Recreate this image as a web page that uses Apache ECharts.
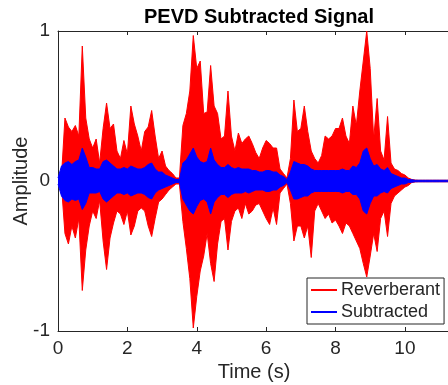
<!DOCTYPE html>
<html>
<head>
<meta charset="utf-8">
<script src="https://cdn.jsdelivr.net/npm/echarts@6/dist/echarts.min.js"></script>
<style>html,body{margin:0;padding:0;background:#fff}#c{width:448px;height:385px}</style>
</head>
<body>
<div id="c"></div>
<script>
const times = [0.0,0.1,0.2,0.3,0.4,0.5,0.6,0.7,0.8,0.9,1.0,1.1,1.2,1.3,1.4,1.5,1.6,1.7,1.8,1.9,2.0,2.1,2.2,2.3,2.4,2.5,2.6,2.7,2.8,2.9,3.0,3.1,3.2,3.3,3.4,3.5,3.6,3.7,3.8,3.9,4.0,4.1,4.2,4.3,4.4,4.5,4.6,4.7,4.8,4.9,5.0,5.1,5.2,5.3,5.4,5.5,5.6,5.7,5.8,5.9,6.0,6.1,6.2,6.3,6.4,6.5,6.6,6.7,6.8,6.9,7.0,7.1,7.2,7.3,7.4,7.5,7.6,7.7,7.8,7.9,8.0,8.1,8.2,8.3,8.4,8.5,8.6,8.7,8.8,8.9,9.0,9.1,9.2,9.3,9.4,9.5,9.6,9.7,9.8,9.9,10.0,10.1,10.2,10.3,10.4,10.5,10.6,10.7,10.8,10.9,11.0,11.1,11.2,11.3];
const reverbUpper = [0.01,0.03,0.42,0.36,0.33,0.37,0.30,0.90,0.42,0.28,0.22,0.28,0.12,0.35,0.52,0.35,0.38,0.20,0.15,0.27,0.18,0.50,0.38,0.30,0.20,0.33,0.36,0.47,0.30,0.15,0.20,0.10,0.07,0.05,0.02,0.02,0.37,0.45,0.60,0.97,0.75,0.80,0.45,0.46,0.77,0.50,0.45,0.28,0.30,0.60,0.30,0.20,0.32,0.25,0.28,0.30,0.25,0.19,0.15,0.22,0.27,0.25,0.22,0.22,0.08,0.05,0.02,0.15,0.54,0.33,0.35,0.50,0.33,0.20,0.15,0.12,0.17,0.30,0.28,0.30,0.35,0.35,0.42,0.30,0.25,0.50,0.37,0.60,0.80,1.00,0.75,0.28,0.55,0.20,0.14,0.43,0.12,0.08,0.07,0.05,0.04,0.02,0.01,0.006,0.005,0.005,0.005,0.005,0.005,0.005,0.005,0.005,0.005,0.005];
const reverbLower = [-0.01,-0.03,-0.35,-0.42,-0.30,-0.38,-0.25,-0.73,-0.46,-0.30,-0.20,-0.25,-0.13,-0.40,-0.59,-0.38,-0.28,-0.20,-0.22,-0.29,-0.20,-0.36,-0.30,-0.20,-0.18,-0.20,-0.30,-0.37,-0.25,-0.14,-0.12,-0.09,-0.06,-0.04,-0.02,-0.02,-0.27,-0.45,-0.65,-0.98,-0.77,-0.60,-0.50,-0.35,-0.55,-0.67,-0.42,-0.27,-0.25,-0.46,-0.27,-0.20,-0.18,-0.25,-0.15,-0.22,-0.20,-0.16,-0.15,-0.20,-0.25,-0.29,-0.18,-0.29,-0.08,-0.05,-0.02,-0.15,-0.40,-0.30,-0.30,-0.38,-0.30,-0.51,-0.20,-0.15,-0.20,-0.25,-0.22,-0.28,-0.26,-0.30,-0.35,-0.28,-0.30,-0.35,-0.40,-0.45,-0.55,-0.64,-0.50,-0.35,-0.47,-0.25,-0.20,-0.37,-0.15,-0.10,-0.08,-0.06,-0.04,-0.03,-0.01,-0.006,-0.005,-0.005,-0.005,-0.005,-0.005,-0.005,-0.005,-0.005,-0.005,-0.005];
const subUpper = [0.02,0.10,0.12,0.13,0.11,0.13,0.14,0.22,0.16,0.09,0.09,0.08,0.08,0.13,0.14,0.12,0.10,0.08,0.08,0.09,0.08,0.10,0.09,0.08,0.08,0.09,0.11,0.12,0.08,0.06,0.06,0.04,0.03,0.02,0.01,0.01,0.12,0.14,0.18,0.22,0.16,0.13,0.12,0.13,0.22,0.14,0.11,0.09,0.09,0.11,0.09,0.08,0.09,0.08,0.08,0.08,0.07,0.07,0.06,0.06,0.07,0.07,0.06,0.06,0.04,0.03,0.01,0.06,0.13,0.12,0.11,0.11,0.10,0.08,0.07,0.07,0.07,0.07,0.07,0.07,0.07,0.07,0.08,0.07,0.07,0.10,0.09,0.12,0.20,0.22,0.15,0.10,0.11,0.08,0.07,0.09,0.05,0.04,0.03,0.02,0.02,0.01,0.008,0.005,0.005,0.005,0.005,0.005,0.005,0.005,0.005,0.005,0.005,0.005];
const subLower = [-0.02,-0.10,-0.13,-0.14,-0.12,-0.13,-0.12,-0.19,-0.15,-0.08,-0.08,-0.08,-0.07,-0.12,-0.14,-0.12,-0.10,-0.08,-0.08,-0.09,-0.08,-0.10,-0.09,-0.08,-0.08,-0.09,-0.11,-0.12,-0.08,-0.06,-0.05,-0.04,-0.03,-0.02,-0.01,-0.01,-0.12,-0.16,-0.20,-0.22,-0.17,-0.13,-0.12,-0.14,-0.22,-0.14,-0.11,-0.09,-0.09,-0.11,-0.09,-0.08,-0.08,-0.08,-0.07,-0.08,-0.07,-0.06,-0.06,-0.06,-0.07,-0.07,-0.06,-0.06,-0.04,-0.03,-0.01,-0.06,-0.12,-0.12,-0.11,-0.10,-0.10,-0.08,-0.07,-0.07,-0.07,-0.07,-0.07,-0.07,-0.07,-0.07,-0.08,-0.07,-0.07,-0.09,-0.09,-0.12,-0.20,-0.22,-0.15,-0.10,-0.10,-0.08,-0.07,-0.08,-0.05,-0.04,-0.03,-0.02,-0.02,-0.01,-0.008,-0.005,-0.005,-0.005,-0.005,-0.005,-0.005,-0.005,-0.005,-0.005,-0.005,-0.005];
const xTicks = [0,2,4,6,8,10];
const yTicks = [-1,0,1];
const seriesNames = ['Reverberant','Subtracted'];
const seriesColors = ['#ff0000','#0000ff'];

const pairs = (vals) => times.map((t,i) => [t, vals[i]]);
const FONT = '"Liberation Sans", Arial, sans-serif';
const AX = '#262626';

function envSeries(name, color, vals, z) {
  return {
    name: name, type: 'line', data: pairs(vals), showSymbol: false, symbol: 'none',
    lineStyle: {color: color, width: 1}, itemStyle: {color: color},
    areaStyle: {color: color, opacity: 1, origin: 0},
    z: z, animation: false, silent: true
  };
}

const chart = echarts.init(document.getElementById('c'), null, {renderer: 'canvas'});
chart.setOption({
  animation: false,
  backgroundColor: '#fff',
  title: {
    text: 'PEVD Subtracted Signal', left: 254, top: 2, textAlign: 'center',
    textStyle: {fontFamily: FONT, fontWeight: 'bold', fontSize: 20, color: '#000'}
  },
  grid: {left: 58, top: 31, right: -2, bottom: 54, containLabel: false, outerBoundsMode: 'none'},
  legend: {
    data: seriesNames, orient: 'vertical', left: 307, top: 278,
    padding: [3, 4, 3, 4], itemGap: 4, itemWidth: 26, itemHeight: 2, icon: 'rect',
    borderColor: AX, borderWidth: 1, backgroundColor: '#fff',
    textStyle: {fontFamily: FONT, fontSize: 18, color: AX, padding: [0, 0, 0, -1]}
  },
  xAxis: [{
    type: 'value', min: 0, max: 11.3, interval: 2,
    name: 'Time (s)', nameLocation: 'middle', nameGap: 31, nameMoveOverlap: false,
    nameTextStyle: {fontFamily: FONT, fontSize: 20, color: AX},
    axisLine: {show: true, onZero: false, lineStyle: {color: AX, width: 1}},
    axisTick: {show: true, inside: true, length: 4, lineStyle: {color: AX}},
    axisLabel: {fontFamily: FONT, fontSize: 19, color: AX, margin: 8,
      formatter: v => xTicks.includes(v) ? String(v) : ''},
    splitLine: {show: false}
  }, {
    type: 'value', position: 'top', min: 0, max: 11.3, interval: 2,
    axisLine: {show: true, onZero: false, lineStyle: {color: AX, width: 1}},
    axisTick: {show: true, inside: true, length: 4, lineStyle: {color: AX}},
    axisLabel: {show: false}, splitLine: {show: false}
  }],
  yAxis: [{
    type: 'value', min: -1, max: 1, interval: 1,
    name: 'Amplitude', nameLocation: 'middle', nameGap: 27, nameRotate: 90, nameMoveOverlap: false,
    nameTextStyle: {fontFamily: FONT, fontSize: 20, color: AX},
    axisLine: {show: true, onZero: false, lineStyle: {color: AX, width: 1}},
    axisTick: {show: true, inside: true, length: 4, lineStyle: {color: AX}},
    axisLabel: {fontFamily: FONT, fontSize: 19, color: AX, margin: 8,
      formatter: v => yTicks.includes(v) ? String(v) : ''},
    splitLine: {show: false}
  }, {
    type: 'value', position: 'right', min: -1, max: 1, interval: 1,
    axisLine: {show: true, onZero: false, lineStyle: {color: AX, width: 1}},
    axisTick: {show: true, inside: true, length: 4, lineStyle: {color: AX}},
    axisLabel: {show: false}, splitLine: {show: false}
  }],
  series: [
    envSeries(seriesNames[0], seriesColors[0], reverbUpper, 2),
    envSeries(seriesNames[0], seriesColors[0], reverbLower, 2),
    envSeries(seriesNames[1], seriesColors[1], subUpper, 3),
    envSeries(seriesNames[1], seriesColors[1], subLower, 3)
  ]
});
</script>
</body>
</html>
